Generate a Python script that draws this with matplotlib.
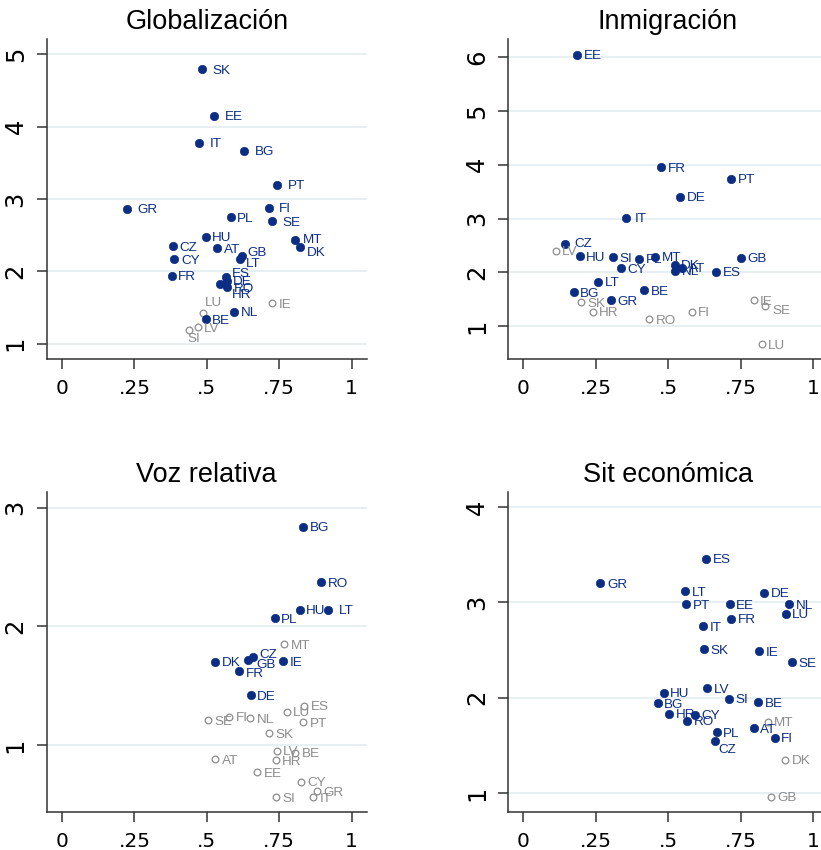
import matplotlib
matplotlib.use("Agg")
import matplotlib.pyplot as plt

plt.rcParams['font.family'] = ['Liberation Sans', 'DejaVu Sans']

# --- Globalización ---
glob_cty = ['SK', 'EE', 'IT', 'BG', 'PT', 'GR', 'FI', 'PL', 'SE', 'HU', 'MT', 'DK', 'CZ', 'AT',
            'GB', 'LT', 'CY', 'FR', 'ES', 'DE', 'RO', 'HR', 'LU', 'IE', 'NL', 'BE', 'LV', 'SI']
glob_x = [0.484, 0.526, 0.473, 0.628, 0.742, 0.223, 0.713, 0.582, 0.726, 0.496, 0.805, 0.823, 0.383, 0.536,
          0.621, 0.613, 0.385, 0.379, 0.566, 0.568, 0.570, 0.544, 0.486, 0.725, 0.595, 0.496, 0.469, 0.438]
glob_y = [4.79, 4.15, 3.78, 3.67, 3.20, 2.865, 2.88, 2.75, 2.69, 2.48, 2.43, 2.33, 2.35, 2.32,
          2.21, 2.17, 2.17, 1.94, 1.92, 1.87, 1.78, 1.82, 1.43, 1.56, 1.44, 1.34, 1.23, 1.19]
glob_hollow = ['LU', 'IE', 'LV', 'SI']

# --- Inmigración ---
inm_cty = ['EE', 'FR', 'PT', 'DE', 'IT', 'CZ', 'LV', 'HU', 'SI', 'PL', 'MT', 'GB', 'DK', 'AT',
           'NL', 'CY', 'ES', 'LT', 'BG', 'BE', 'GR', 'SK', 'HR', 'RO', 'FI', 'IE', 'SE', 'LU']
inm_x = [0.185, 0.476, 0.718, 0.541, 0.353, 0.145, 0.112, 0.194, 0.311, 0.400, 0.456, 0.752, 0.522, 0.548,
         0.524, 0.336, 0.665, 0.258, 0.174, 0.417, 0.301, 0.200, 0.240, 0.434, 0.581, 0.795, 0.835, 0.823]
inm_y = [6.04, 3.95, 3.74, 3.41, 3.02, 2.52, 2.40, 2.30, 2.28, 2.25, 2.29, 2.27, 2.145, 2.09,
         2.03, 2.08, 2.01, 1.83, 1.63, 1.67, 1.48, 1.45, 1.27, 1.13, 1.27, 1.48, 1.38, 0.67]
inm_hollow = ['LV', 'SK', 'HR', 'RO', 'FI', 'IE', 'SE', 'LU']

# --- Voz relativa ---
voz_cty = ['BG', 'RO', 'HU', 'LT', 'PL', 'MT', 'CZ', 'GB', 'DK', 'IE', 'FR', 'DE', 'ES', 'LU',
           'PT', 'SE', 'FI', 'NL', 'SK', 'LV', 'BE', 'AT', 'HR', 'EE', 'CY', 'GR', 'SI', 'IT']
voz_x = [0.832, 0.894, 0.820, 0.919, 0.734, 0.766, 0.659, 0.641, 0.528, 0.763, 0.610, 0.652, 0.837, 0.776,
         0.832, 0.505, 0.578, 0.650, 0.716, 0.741, 0.806, 0.529, 0.738, 0.673, 0.826, 0.881, 0.740, 0.867]
voz_y = [2.84, 2.37, 2.14, 2.14, 2.07, 1.85, 1.74, 1.72, 1.70, 1.705, 1.62, 1.42, 1.33, 1.28,
         1.19, 1.21, 1.24, 1.225, 1.10, 0.95, 0.935, 0.88, 0.87, 0.77, 0.69, 0.61, 0.56, 0.56]
voz_hollow = ['MT', 'ES', 'LU', 'PT', 'SE', 'FI', 'NL', 'SK', 'LV', 'BE', 'AT', 'HR', 'EE', 'CY',
              'GR', 'SI', 'IT']

# --- Sit económica ---
eco_cty = ['ES', 'GR', 'LT', 'DE', 'PT', 'EE', 'NL', 'LU', 'FR', 'IT', 'SK', 'IE', 'SE', 'HU',
           'LV', 'SI', 'BG', 'BE', 'HR', 'CY', 'RO', 'MT', 'AT', 'PL', 'FI', 'CZ', 'DK', 'GB']
eco_x = [0.632, 0.265, 0.558, 0.831, 0.563, 0.713, 0.917, 0.906, 0.717, 0.622, 0.625, 0.815, 0.926, 0.484,
         0.635, 0.710, 0.464, 0.812, 0.503, 0.594, 0.566, 0.844, 0.796, 0.668, 0.868, 0.661, 0.904, 0.855]
eco_y = [3.46, 3.20, 3.12, 3.10, 2.98, 2.98, 2.98, 2.88, 2.83, 2.75, 2.51, 2.49, 2.37, 2.05,
         2.10, 1.99, 1.94, 1.95, 1.83, 1.82, 1.76, 1.75, 1.68, 1.64, 1.58, 1.55, 1.35, 0.96]
eco_hollow = ['MT', 'DK', 'GB']

xticks = [0, 0.25, 0.5, 0.75, 1]
xtick_labels = ['0', '.25', '.5', '.75', '1']

navy = '#0b2d84'
grey = '#8c8c8c'

W, H = 821, 850
fig = plt.figure(figsize=(W / 100, H / 100), dpi=100)

# label offsets in pixels (dx right, dy down) where Stata placed them differently
wide = (10.5, 1.5)
panels = [
    ('Globalización', glob_cty, glob_x, glob_y, glob_hollow, range(1, 6), (0.784, 5.207),
     (46.7, 39.3),
     {'SK': wide, 'EE': wide, 'IT': wide, 'BG': wide, 'PT': wide, 'GR': wide, 'FI': wide,
      'SE': wide, 'MT': (8, 0), 'DK': (6.5, 6), 'LU': (2.5, -9.5), 'SI': (-1, 9.5),
      'LT': (6.5, 4.5), 'HR': (12, 11), 'GB': (5.5, -3), 'ES': (6, -3), 'CY': (8, 1.5)}),
    ('Inmigración', inm_cty, inm_x, inm_y, inm_hollow, range(1, 7), (0.387, 6.33),
     (508, 39.3),
     {'IT': (9.5, 1.5), 'SE': (7, 5), 'CZ': (9, 0)}),
    ('Voz relativa', voz_cty, voz_x, voz_y, voz_hollow, range(1, 4), (0.433, 3.13),
     (46.7, 492.3),
     {'LT': wide, 'CZ': (6, -2.5), 'GB': (9, 5), 'FR': (7, 3)}),
    ('Sit económica', eco_cty, eco_x, eco_y, eco_hollow, range(1, 5), (0.797, 4.157),
     (508, 492.3),
     {'CZ': (4, 9.5), 'GR': (7.5, 1.5)}),
]

for title, cty, xs, ys, hollow, yt, ylim, (left, top), offs in panels:
    ax = fig.add_axes([left / W, 1 - (top + 320) / H, 320 / W, 320 / H])
    ax.set_xlim(-0.053, 1.052)
    ax.set_ylim(*ylim)
    for v in yt:
        ax.axhline(v, color='#e7eff2', lw=1.4, zorder=0)
    for c, x, y in zip(cty, xs, ys):
        if c in hollow:
            ax.plot(x, y, 'o', ms=4.8, mfc='white', mec=grey, mew=0.9, zorder=3)
            col = grey
        else:
            ax.plot(x, y, 'o', ms=6.0, mfc=navy, mec=navy, mew=0.5, zorder=4)
            col = navy
        dx, dy = offs.get(c, (6.5, 1.5))
        ax.annotate(c, (x, y), xytext=(dx, -dy), textcoords='offset pixels',
                    ha='left', va='center', fontsize=9.7, color=col, zorder=5)
    ax.set_title(title, fontsize=19.5, pad=7.5)
    ax.set_xticks(xticks)
    ax.set_xticklabels(xtick_labels, family='DejaVu Sans')
    ax.set_yticks(list(yt))
    ax.set_yticklabels([str(v) for v in yt], family='DejaVu Sans')
    ax.tick_params(axis='x', labelsize=14.5, length=7.2, width=1.1, pad=7, color='#333333')
    ax.tick_params(axis='y', labelsize=17.5, length=7.2, width=1.1, pad=6.5, color='#333333',
                   labelrotation=90)
    for lab in ax.get_yticklabels():
        lab.set_va('center')
    for s in ['top', 'right']:
        ax.spines[s].set_visible(False)
    for s in ['left', 'bottom']:
        ax.spines[s].set_color('#333333')
        ax.spines[s].set_linewidth(1.1)

fig.savefig('out.png', dpi=100)
